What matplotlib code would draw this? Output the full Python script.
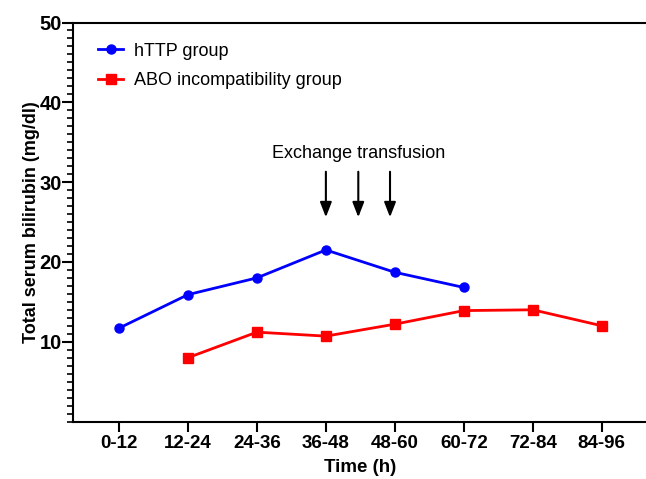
import matplotlib
matplotlib.use('Agg')
import matplotlib.pyplot as plt
from matplotlib.ticker import MultipleLocator

plt.rcParams['font.family'] = ['Liberation Sans', 'DejaVu Sans']

time_labels = ['0-12', '12-24', '24-36', '36-48', '48-60', '60-72', '72-84', '84-96']
http_values = [11.7, 15.9, 18.0, 21.5, 18.7, 16.8]
abo_values = [8.0, 11.2, 10.7, 12.2, 13.9, 14.0, 12.0]
abo_start = 1
arrow_x = [3.0, 3.47, 3.93]


def draw_chart():
    fig = plt.figure(figsize=(6.46, 4.79), dpi=100)
    ax = fig.add_axes([0.113, 0.12, 0.89, 0.833])

    ax.plot(range(len(http_values)), http_values, color='#0000ff', marker='o',
            markersize=6.5, linewidth=2, label='hTTP group', clip_on=False)
    ax.plot(range(abo_start, abo_start + len(abo_values)), abo_values, color='#ff0000',
            marker='s', markersize=6.5, linewidth=2, label='ABO incompatibility group', clip_on=False)

    # arrows for exchange transfusion
    for x in arrow_x:
        ax.annotate('', xy=(x, 25.6), xytext=(x, 31.3),
                    arrowprops=dict(arrowstyle='-|>,head_length=0.9,head_width=0.35',
                                    color='black', lw=1.5, shrinkA=0, shrinkB=0))
    ax.text(3.47, 33.6, 'Exchange transfusion', ha='center', va='center', fontsize=13)

    ax.set_xlim(-0.667, 7.67)
    ax.set_ylim(0, 50)
    ax.set_xticks(range(len(time_labels)))
    ax.set_xticklabels(time_labels, fontweight='bold', fontsize=13.5)
    ax.set_yticks([10, 20, 30, 40, 50])
    ax.yaxis.set_minor_locator(MultipleLocator(1))
    for lab in ax.get_yticklabels():
        lab.set_fontweight('bold')
        lab.set_fontsize(14.5)

    ax.tick_params(axis='y', which='major', length=8, width=1.5, pad=0)
    ax.tick_params(axis='y', which='minor', length=4, width=1.2)
    ax.tick_params(axis='x', which='major', length=7, width=1.5, pad=3)
    ax.tick_params(axis='x', which='minor', bottom=False)

    for side in ['left', 'bottom', 'top']:
        ax.spines[side].set_linewidth(1.5)
    ax.spines['right'].set_visible(False)

    ax.set_xlabel('Time (h)', fontweight='bold', fontsize=13.5, labelpad=5)
    ax.set_ylabel('Total serum bilirubin (mg/dl)', fontweight='bold', fontsize=13, labelpad=0)

    ax.legend(loc='upper left', frameon=False, fontsize=13, handlelength=1.4,
              handletextpad=0.6, labelspacing=0.7, bbox_to_anchor=(0.012, 0.995),
              borderaxespad=0.6)
    return fig


def main():
    fig = draw_chart()
    fig.savefig('out.png', dpi=100)


if __name__ == '__main__':
    main()
